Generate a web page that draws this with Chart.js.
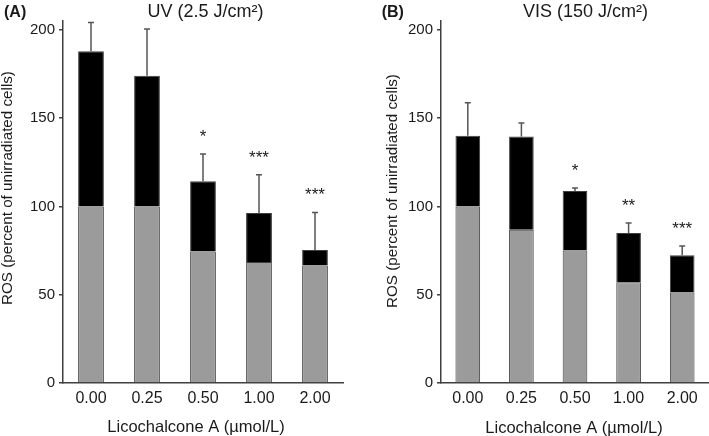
<!DOCTYPE html>
<html><head><meta charset="utf-8">
<script src="https://cdn.jsdelivr.net/npm/chart.js@4/dist/chart.umd.min.js"></script>
<style>
html,body{margin:0;padding:0;background:#fff;}
#wrap{position:relative;width:709px;height:436px;overflow:hidden;}
.c{position:absolute;top:0;height:436px;}
</style></head><body>
<div id="wrap">
<div class="c" style="left:0;width:355px"><canvas id="cA"></canvas></div>
<div class="c" style="left:355px;width:354px"><canvas id="cB"></canvas></div>
</div>
<script>
// ---- data ----
const categories = ['0.00', '0.25', '0.50', '1.00', '2.00'];
const yTickValues = [0, 50, 100, 150, 200];

// Panel A: UV (2.5 J/cm²)
const greyA  = [100, 100, 74.5, 68.5, 66.6];
const totalA = [187.8, 174.0, 114.2, 96.3, 75.3];
const sdA    = [16.4, 26.4, 15.5, 21.7, 21.3];
const starsA = ['', '', '*', '***', '***'];

// Panel B: VIS (150 J/cm²)
const greyB  = [100, 86.8, 75.1, 57.0, 51.3];
const totalB = [140.0, 139.6, 108.7, 84.9, 72.3];
const sdB    = [18.7, 7.6, 1.7, 5.7, 5.3];
const starsB = ['', '', '*', '**', '***'];

const FONT = '"Liberation Sans", Arial, Helvetica, sans-serif';
const TEXT = '#1a1a1a';
const LINE = '#3f3f3f';

function overlayPlugin(cfg) {
  return {
    id: 'overlay' + cfg.panel,
    afterDatasetsDraw(chart) {
      const ctx = chart.ctx, y = chart.scales.y;
      const meta = chart.getDatasetMeta(1);
      ctx.save();
      ctx.strokeStyle = '#555';
      ctx.lineWidth = 1.5;
      for (let i = 0; i < cfg.total.length; i++) {
        const bar = meta.data[i];
        const x = bar.x;
        const yb = y.getPixelForValue(cfg.total[i]);
        const yt = y.getPixelForValue(cfg.total[i] + cfg.sd[i]);
        ctx.beginPath();
        ctx.moveTo(x, yb); ctx.lineTo(x, yt);
        ctx.moveTo(x - 3, yt); ctx.lineTo(x + 3, yt);
        ctx.stroke();
        if (cfg.stars[i]) {
          ctx.fillStyle = TEXT;
          ctx.font = '17px ' + FONT;
          ctx.textAlign = 'center';
          ctx.textBaseline = 'alphabetic';
          ctx.fillText(cfg.stars[i], x, yt - 12);
        }
      }
      ctx.restore();
    },
    afterDraw(chart) {
      const ctx = chart.ctx;
      ctx.save();
      ctx.fillStyle = TEXT;
      ctx.textBaseline = 'alphabetic';
      // panel letter
      ctx.font = 'bold 16px ' + FONT;
      ctx.textAlign = 'left';
      ctx.fillText(cfg.letter, cfg.letterX, 17);
      // panel title
      ctx.font = '18px ' + FONT;
      ctx.textAlign = 'center';
      ctx.fillText(cfg.title, cfg.titleX, 17);
      // x title
      ctx.font = '16.5px ' + FONT;
      ctx.fillText('Licochalcone A (µmol/L)', cfg.xTitleX, cfg.xTitleY);
      // y title
      ctx.translate(cfg.yTitleX, cfg.yTitleY);
      ctx.rotate(-Math.PI / 2);
      ctx.font = '15.2px ' + FONT;
      ctx.textBaseline = 'middle';
      ctx.fillText('ROS (percent of unirradiated cells)', 0, 0);
      ctx.restore();
    }
  };
}

function makeChart(id, cfg) {
  return new Chart(document.getElementById(id), {
    type: 'bar',
    data: {
      labels: categories,
      datasets: [
        { data: cfg.grey, backgroundColor: '#9b9b9b', borderColor: LINE, borderWidth: 1 },
        { data: cfg.total.map((t, i) => t - cfg.grey[i]), backgroundColor: '#000', borderColor: LINE, borderWidth: 1 }
      ]
    },
    options: {
      responsive: true,
      maintainAspectRatio: false,
      animation: false,
      events: [],
      layout: { padding: { top: 21, right: cfg.padRight, left: 0, bottom: 0 } },
      datasets: { bar: { categoryPercentage: 1, barPercentage: 0.46 } },
      plugins: { legend: { display: false }, tooltip: { enabled: false }, title: { display: false } },
      scales: {
        x: {
          stacked: true,
          offset: true,
          grid: { display: false, drawTicks: false },
          border: { display: true, color: LINE, width: 1.5 },
          ticks: { font: { family: FONT, size: 16 }, color: TEXT, padding: 6, maxRotation: 0 },
          afterFit: s => { s.height = 53; }
        },
        y: {
          stacked: true,
          min: 0, max: 205,
          afterBuildTicks: s => { s.ticks = yTickValues.map(v => ({ value: v })); },
          ticks: { font: { family: FONT, size: 15 }, color: TEXT, padding: 4, includeBounds: false },
          grid: { drawOnChartArea: false, drawTicks: true, tickLength: 4, color: LINE, lineWidth: 1.5 },
          border: { display: true, color: LINE, width: 1.5 },
          afterFit: s => { s.width = cfg.yWidth; }
        }
      }
    },
    plugins: [overlayPlugin(cfg)]
  });
}

makeChart('cA', {
  panel: 'A', grey: greyA, total: totalA, sd: sdA, stars: starsA,
  padRight: 12, yWidth: 63,
  letter: '(A)', letterX: 4, title: 'UV (2.5 J/cm²)', titleX: 205.5,
  xTitleX: 196, xTitleY: 432, yTitleX: 8, yTitleY: 188
});
makeChart('cB', {
  panel: 'B', grey: greyB, total: totalB, sd: sdB, stars: starsB,
  padRight: 0, yWidth: 86,
  letter: '(B)', letterX: 26.7, title: 'VIS (150 J/cm²)', titleX: 230.4,
  xTitleX: 219, xTitleY: 433, yTitleX: 38, yTitleY: 191
});
</script>
</body></html>
